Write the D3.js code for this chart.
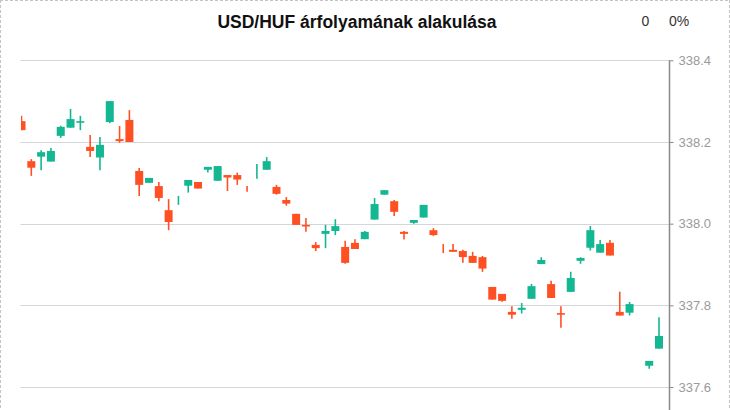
<!DOCTYPE html>
<html>
<head>
<meta charset="utf-8">
<script src="https://cdn.jsdelivr.net/npm/d3@7/dist/d3.min.js"></script>
<style>
  html, body { margin: 0; padding: 0; background: #fff; overflow: hidden; }
  svg { display: block; }
</style>
</head>
<body>
<svg id="chart" width="730" height="410"></svg>
<script>
const title = "USD/HUF árfolyamának alakulása";
const changeValue = "0";
const changePercent = "0%";

const categories = ["1","2","3","4","5","6","7","8","9","10","11","12","13","14","15","16","17","18","19","20","21","22","23","24","25","26","27","28","29","30","31","32","33","34","35","36","37","38","39","40","41","42","43","44","45","46","47","48","49","50","51","52","53","54","55","56","57","58","59","60","61","62","63","64","65","66"];

const openValues  = [338.251,338.153,338.164,338.152,338.215,338.235,338.247,338.188,338.162,338.249,338.207,338.254,338.129,338.100,338.092,338.033,338.057,338.093,338.102,338.132,338.105,338.119,338.119,338.085,338.120,338.132,338.090,338.058,338.024,337.997,337.948,337.975,337.982,337.943,337.953,337.962,338.010,338.071,338.055,337.980,338.002,338.015,337.984,337.940,337.936,337.933,337.921,337.918,337.845,337.828,337.784,337.789,337.816,337.901,337.852,337.781,337.833,337.909,337.941,337.929,337.953,337.784,337.782,null,337.652,337.694];
const highValues  = [338.264,338.158,338.180,338.185,338.240,338.281,338.264,338.217,338.212,338.300,338.239,338.278,338.136,338.112,338.102,338.060,338.068,338.107,338.102,338.139,338.141,338.119,338.125,338.092,338.146,338.163,338.095,338.065,338.024,338.014,337.955,337.997,338.011,337.958,337.962,337.982,338.063,338.082,338.058,337.982,338.009,338.046,337.989,337.950,337.950,337.936,337.931,337.921,337.845,337.828,337.798,337.806,337.852,337.918,337.860,337.798,337.882,337.918,337.994,337.960,337.960,337.833,337.808,null,337.664,337.771];
const lowValues   = [338.229,338.117,338.131,338.152,338.210,338.235,338.229,338.163,338.131,338.246,338.198,338.200,338.068,338.100,338.055,337.984,338.046,338.076,338.086,338.125,338.105,338.080,338.095,338.078,338.110,338.132,338.071,338.044,337.997,337.980,337.933,337.940,337.972,337.902,337.938,337.962,338.010,338.071,338.019,337.961,338.000,338.015,337.970,337.928,337.931,337.904,337.904,337.882,337.814,337.809,337.767,337.780,337.816,337.901,337.818,337.745,337.833,337.902,337.934,337.929,337.922,337.775,337.775,null,337.645,337.694];
const closeValues = [338.229,338.137,338.175,338.178,338.237,338.256,338.251,338.178,338.193,338.300,338.202,338.200,338.095,338.112,338.063,338.004,338.057,338.107,338.086,338.139,338.141,338.113,338.108,338.085,338.120,338.153,338.073,338.049,337.997,337.993,337.940,337.982,337.994,337.904,337.938,337.980,338.048,338.082,338.029,337.975,338.009,338.046,337.972,337.940,337.931,337.918,337.904,337.890,337.814,337.811,337.777,337.794,337.847,337.911,337.818,337.777,337.867,337.916,337.984,337.950,337.922,337.775,337.803,null,337.664,337.725];

const yTickValues = [337.6, 337.8, 338.0, 338.2, 338.4];

const upColor = "#13b792";
const downColor = "#ff5024";

const svg = d3.select("#chart");
const W = 730, H = 410;
const plotLeft = 20.5, plotRight = 669.5, plotTop = 60.3;

const data = categories.map((c, i) => ({
  cat: c, open: openValues[i], high: highValues[i], low: lowValues[i], close: closeValues[i], idx: i
})).filter(d => d.open !== null);

const x = d3.scalePoint().domain(categories).range([21.5, 659]);
const bodyW = 8;

const y = d3.scaleLinear().domain([337.5, 338.4]).range([plotTop + 0.9 * 408.4, plotTop]);

// colour: compare with previous close when open equals close
function isUp(d) {
  if (d.close !== d.open) return d.close > d.open;
  const prev = data[data.indexOf(d) - 1];
  return prev ? d.close >= prev.close : true;
}

// dashed frame
const frame = svg.append("g").attr("stroke", "#c4c4c4").attr("stroke-dasharray", "3,2").attr("stroke-width", 1);
frame.append("line").attr("x1", 0.5).attr("x2", 0.5).attr("y1", 0).attr("y2", H);
frame.append("line").attr("x1", 0).attr("x2", W).attr("y1", 0.5).attr("y2", 0.5);
frame.append("line").attr("x1", W - 0.5).attr("x2", W - 0.5).attr("y1", 0).attr("y2", H);

// gridlines
svg.append("g").selectAll("line").data(yTickValues).join("line")
  .attr("x1", plotLeft).attr("x2", plotRight)
  .attr("y1", d => Math.round(y(d)) + 0.5).attr("y2", d => Math.round(y(d)) + 0.5)
  .attr("stroke", "#d3d6da").attr("stroke-width", 1);

// clip
svg.append("defs").append("clipPath").attr("id", "plotclip")
  .append("rect").attr("x", 21).attr("y", 0).attr("width", plotRight - 21).attr("height", H);

const candles = svg.append("g").attr("clip-path", "url(#plotclip)");
const g = candles.selectAll("g.c").data(data).join("g").attr("class", "c");
g.append("line")
  .attr("x1", d => x(d.cat)).attr("x2", d => x(d.cat))
  .attr("y1", d => y(d.high)).attr("y2", d => y(d.low))
  .attr("stroke", d => isUp(d) ? upColor : downColor)
  .attr("stroke-width", 1.6);
g.filter(d => d.open !== d.close).append("rect")
  .attr("x", d => x(d.cat) - bodyW / 2)
  .attr("width", bodyW)
  .attr("y", d => y(Math.max(d.open, d.close)))
  .attr("height", d => Math.abs(y(d.open) - y(d.close)))
  .attr("fill", d => isUp(d) ? upColor : downColor);

// right axis
const axis = d3.axisRight(y).tickValues(yTickValues).tickSize(4).tickPadding(5).tickFormat(d3.format(".1f"));
const ag = svg.append("g").attr("transform", `translate(${plotRight},0)`).call(axis);
ag.select(".domain").remove();
ag.append("line").attr("x1", 0).attr("x2", 0).attr("y1", plotTop).attr("y2", H).attr("stroke", "#8a8a8a").attr("stroke-width", 1.5);
ag.selectAll(".tick line").attr("stroke", "#8a8a8a");
ag.selectAll(".tick text").attr("fill", "#9a9a9a").style("font-family", "Liberation Sans, Arial, sans-serif").style("font-size", "13px");

// title
svg.append("text").attr("x", 357).attr("y", 28).attr("text-anchor", "middle")
  .style("font-family", "Liberation Sans, Arial, sans-serif").style("font-size", "17.5px").style("font-weight", "bold")
  .attr("fill", "#111").text(title);

svg.append("text").attr("x", 641.5).attr("y", 26)
  .style("font-family", "Liberation Sans, Arial, sans-serif").style("font-size", "14px")
  .attr("fill", "#333").text(changeValue);
svg.append("text").attr("x", 669).attr("y", 26)
  .style("font-family", "Liberation Sans, Arial, sans-serif").style("font-size", "14px")
  .attr("fill", "#333").text(changePercent);
</script>
</body>
</html>
